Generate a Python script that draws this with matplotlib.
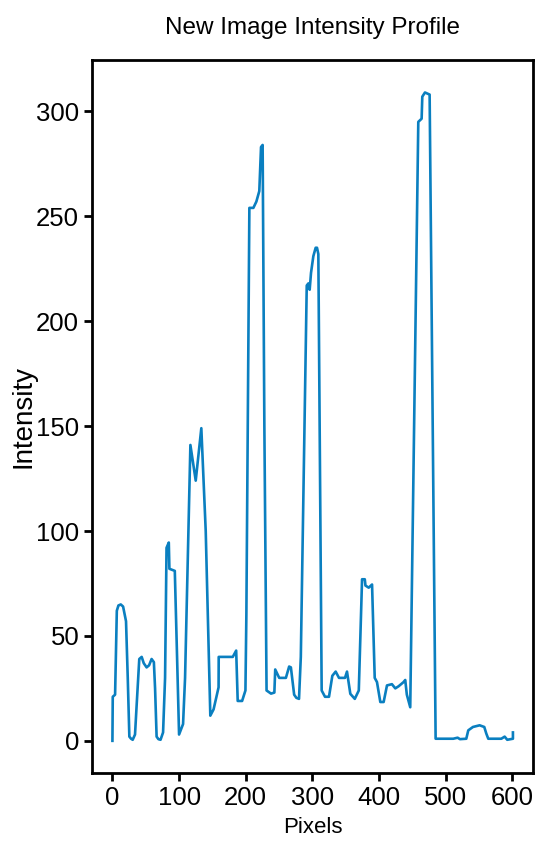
import matplotlib.pyplot as plt

# Intensity profile
pixels = [0, 0.5, 4, 6.6, 9, 12.5, 16, 20.4, 23, 25.4, 28, 30.4, 33.9, 36, 40.3, 43.9,
          47, 51.3, 55, 58.8, 62.2, 64, 66.3, 69, 72.2, 76, 79, 81.2, 84.6, 85.5, 93.6,
          97, 100, 106, 109, 117, 125, 133.4, 140, 146.9, 151.8, 159.3, 159.5, 180.6,
          185.7, 188, 194.6, 199.6, 201, 205.5, 211.5, 216, 220.4, 222, 223, 225.4, 228,
          231.3, 238, 243, 244.3, 250.3, 260.3, 265.2, 267.8, 272.7, 276, 280, 282.7,
          291.6, 294, 296, 298, 301.5, 305, 307, 309, 314, 319, 325, 330, 335, 340, 349,
          352, 357, 363.7, 369.7, 374.6, 378.7, 379.7, 384.6, 389.6, 393.6, 397, 402,
          407, 412, 419.4, 424.5, 429.4, 436.9, 439.4, 441.8, 446.9, 459, 464, 465, 469,
          476, 485, 511.5, 518, 521.5, 531, 534, 541, 551, 558, 561, 564, 583.6, 588.6,
          592.5, 601, 601]
intensity = [0, 21, 22, 62, 64.5, 65, 64, 57, 30, 2, 1, 0.5, 3, 15, 39, 40,
             37, 35, 36, 39, 37.5, 25, 2, 0.8, 0.5, 4, 30, 92, 94.5, 82, 81,
             40, 3, 8, 30, 141, 124, 149, 100, 12, 15, 25.5, 40, 40,
             43, 19, 19, 24, 60, 254, 254, 257, 262, 275, 283, 284, 150,
             24, 22.5, 23, 34, 30, 30, 35.4, 35, 22, 20.5, 20, 40,
             217, 218, 215, 223, 231, 235, 235, 232, 24, 21, 21, 31, 33, 30, 30,
             33, 22.4, 20, 24, 77, 77, 74, 73, 74.5, 30, 28, 18.5,
             18.5, 26.4, 27, 25, 26, 28, 29, 22, 16, 295, 296.5, 307, 309,
             308, 1, 1, 1.5, 0.8, 1, 5, 6.6, 7.4, 6.6, 3.5, 1, 1, 2,
             0.5, 1, 4]

plt.rcParams['font.family'] = ['Liberation Sans', 'DejaVu Sans']

fig = plt.figure(figsize=(5.5, 8.46), dpi=100)
ax = fig.add_axes([0.168, 0.086, 0.801, 0.843])

ax.plot(pixels, intensity, color='#0a7fc0', linewidth=1.9)

ax.set_title('New Image Intensity Profile', fontsize=17.5, pad=19)
ax.set_xlabel('Pixels', fontsize=16, labelpad=5)
ax.set_ylabel('Intensity', fontsize=20, labelpad=0)
ax.set_xticks([0, 100, 200, 300, 400, 500, 600])
ax.set_yticks([0, 50, 100, 150, 200, 250, 300])
ax.tick_params(labelsize=18.5, length=6, width=2, direction='out')
for s in ax.spines.values():
    s.set_linewidth(2)

fig.savefig('out.png', dpi=100)
